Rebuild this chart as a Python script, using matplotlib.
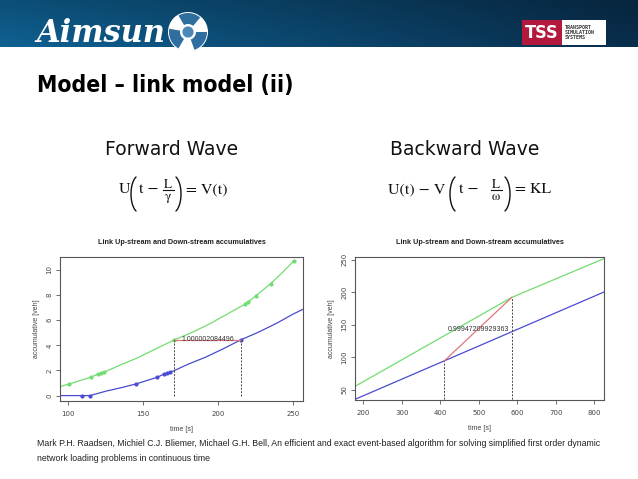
import numpy as np
import matplotlib
matplotlib.use('Agg')
import matplotlib.pyplot as plt
from matplotlib.patches import Rectangle, Circle, Wedge

# ---------------- data ----------------
# Left chart (Forward wave)
fw_up_t = [94.4, 100.7, 114.9, 120.0, 121.8, 123.8, 135.0, 147.0, 158.0, 170.7,
           183.0, 195.0, 206.0, 217.8, 220.0, 225.1, 235.1, 243.0, 250.7]
fw_up_v = [0.72, 0.93, 1.46, 1.72, 1.80, 1.86, 2.45, 3.05, 3.70, 4.43,
           5.05, 5.75, 6.48, 7.27, 7.45, 7.93, 8.91, 9.80, 10.74]
fw_dn_t = [94.4, 109.3, 114.5, 125.0, 136.0, 145.3, 159.3, 164.0, 165.8, 168.0,
           170.5, 180.0, 191.5, 203.0, 215.0, 227.0, 239.0, 250.0, 256.7]
fw_dn_v = [0.0, 0.0, 0.0, 0.35, 0.65, 0.93, 1.46, 1.72, 1.80, 1.86,
           1.98, 2.50, 3.05, 3.70, 4.43, 5.05, 5.75, 6.48, 6.87]
fw_up_mark_t = [100.7, 114.9, 120.0, 121.8, 123.8, 170.7, 217.8, 220.0, 225.1, 235.1, 250.7]
fw_up_mark_v = [0.93, 1.46, 1.72, 1.80, 1.86, 4.43, 7.27, 7.45, 7.93, 8.91, 10.74]
fw_dn_mark_t = [109.3, 114.5, 145.3, 159.3, 164.0, 165.8, 168.0, 215.0]
fw_dn_mark_v = [0.0, 0.0, 0.93, 1.46, 1.72, 1.80, 1.86, 4.43]
fw_wave_t = [170.7, 215.0]
fw_wave_v = [4.43, 4.43]
fw_label = "1.000002084496"

# Right chart (Backward wave)
bw_up_t = [178.4, 585.5, 825.0]
bw_up_v = [55.5, 192.0, 251.5]
bw_dn_t = [178.4, 825.0]
bw_dn_v = [35.6, 200.3]
bw_wave_t = [410.4, 585.5]
bw_wave_v = [94.7, 192.0]
bw_label = "0.99947209929363"

fw_xticks = [100, 150, 200, 250]
fw_yticks = [0, 2, 4, 6, 8, 10]
bw_xticks = [200, 300, 400, 500, 600, 700, 800]
bw_yticks = [50, 100, 150, 200, 250]

chart_title = "Link Up-stream and Down-stream accumulatives"
xlab = "time [s]"
ylab = "accumulative [veh]"

W, H = 638, 479
fig = plt.figure(figsize=(W / 100, H / 100), dpi=100)
fig.patch.set_facecolor('white')

bg = fig.add_axes([0, 0, 1, 1])
bg.set_xlim(0, W)
bg.set_ylim(H, 0)
bg.axis('off')

# header gradient
nx, ny = 200, 40
gx = np.linspace(0, 1, nx)[None, :]
gy = np.linspace(0, 1, ny)[:, None]
c_left = np.array([0x0e, 0x5a, 0x88]) / 255
c_right = np.array([0x08, 0x2a, 0x46]) / 255
img = c_left[None, None, :] * (1 - gx[..., None]) + c_right[None, None, :] * gx[..., None]
img = img * (0.88 + 0.2 * gy[..., None])
img = np.clip(img, 0, 1)
bg.imshow(img, extent=(0, W, 47, 0), aspect='auto', zorder=0)

# Aimsun logo
bg.text(36, 33, "Aimsun", color='white', fontsize=22, fontweight='bold',
        fontstyle='italic', family='DejaVu Serif', va='center', ha='left', zorder=3)
cx, cy, r = 188, 32, 20
bg.add_patch(Circle((cx, cy), r, facecolor='white', edgecolor='none', zorder=3))
for a in (0, 120, 240):
    bg.add_patch(Wedge((cx, cy), r * 0.95, a, a + 70, width=r * 0.55,
                       facecolor='#2f6f9f', edgecolor='none', zorder=4))
bg.add_patch(Circle((cx, cy), r * 0.28, facecolor='#4a88b8', edgecolor='none', zorder=5))

# TSS logo
bg.add_patch(Rectangle((522, 20), 40, 25, facecolor='#b3193c', edgecolor='none', zorder=3))
bg.add_patch(Rectangle((562, 20), 44, 25, facecolor='white', edgecolor='none', zorder=3))
bg.text(542, 33, "TSS", color='white', fontsize=13, fontweight='bold',
        family='DejaVu Sans', fontstretch='condensed', ha='center', va='center', zorder=4)
bg.text(565, 32.5, "TRANSPORT\nSIMULATION\nSYSTEMS", color='#333333', fontsize=3.6,
        fontweight='bold', family='DejaVu Sans Mono', ha='left', va='center',
        linespacing=1.05, zorder=4)

# slide title
bg.text(37, 92, "Model \u2013 link model (ii)", fontsize=16.5, fontweight='bold',
        family='DejaVu Sans', fontstretch='condensed', ha='left', va='baseline', color='black')

# section headings
bg.text(172, 155, "Forward Wave", fontsize=13.5, family='DejaVu Sans',
        ha='center', va='baseline', color='#111111')
bg.text(465, 155, "Backward Wave", fontsize=13.5, family='DejaVu Sans',
        ha='center', va='baseline', color='#111111')

# formulas (built from pieces so the brackets can be tall)
MF = 'STIXGeneral'
FC = '#111111'
PC = 194.0      # bracket centre
PH = 34.0       # bracket height
PW = 5.0        # bracket bulge
_tt = np.linspace(-1.15, 1.15, 50)
_bx = (1 - np.cos(_tt)) / (1 - np.cos(1.15))
_by = np.sin(_tt) / np.sin(1.15)


def paren(x, left=True):
    if left:
        bg.plot(x + PW * _bx, PC + PH / 2 * _by, color=FC, lw=1.0, solid_capstyle='round')
    else:
        bg.plot(x - PW * _bx, PC + PH / 2 * _by, color=FC, lw=1.0, solid_capstyle='round')


def frac(xc, num, den, ybar=189.5, half=5.5):
    bg.plot([xc - half, xc + half], [ybar, ybar], color=FC, lw=0.8)
    bg.text(xc, ybar - 1.5, num, family=MF, fontsize=9.5, ha='center', va='baseline', color=FC)
    bg.text(xc, ybar + 1.8, den, family=MF, fontsize=9.5, ha='center', va='top', color=FC)


BL = 193.0
bg.text(119, BL, "U", family=MF, fontsize=11.5, ha='left', va='baseline', color=FC)
paren(131)
bg.text(139, BL, "t \u2212", family=MF, fontsize=11.5, ha='left', va='baseline', color=FC)
frac(168, "L", "\u03b3")
paren(181, left=False)
bg.text(186, BL, "= V(t)", family=MF, fontsize=11.5, ha='left', va='baseline', color=FC)

bg.text(388, BL, "U(t) \u2212 V", family=MF, fontsize=11.5, ha='left', va='baseline', color=FC)
paren(450)
bg.text(459, BL, "t \u2212", family=MF, fontsize=11.5, ha='left', va='baseline', color=FC)
frac(496, "L", "\u03c9")
paren(510, left=False)
bg.text(515, BL, "= KL", family=MF, fontsize=11.5, ha='left', va='baseline', color=FC)

# reference
bg.text(37, 446, "Mark P.H. Raadsen, Michiel C.J. Bliemer, Michael G.H. Bell, An efficient and exact event-based algorithm for solving simplified first order dynamic",
        fontsize=6.3, family='Liberation Sans', ha='left', va='baseline', color='#222222')
bg.text(37, 461, "network loading problems in continuous time",
        fontsize=6.3, family='Liberation Sans', ha='left', va='baseline', color='#222222')

GREEN = '#72dc72'
BLUE = '#4a4ad2'
RED = '#e27676'
BOX = '#555555'


def px_axes(x0, x1, ytop, ybot):
    return fig.add_axes([x0 / W, 1 - ybot / H, (x1 - x0) / W, (ybot - ytop) / H])


def style(ax, xticks, yticks):
    for s in ax.spines.values():
        s.set_color(BOX)
        s.set_linewidth(0.8)
    ax.set_xticks(xticks)
    ax.set_yticks(yticks)
    ax.tick_params(direction='out', length=3, width=0.6, color=BOX,
                   labelsize=5, labelcolor='#444444')
    ax.tick_params(axis='x', pad=4)
    ax.tick_params(axis='y', pad=2.5)
    for lab in ax.get_yticklabels():
        lab.set_rotation(90)
        lab.set_va('center')
    ax.set_title(chart_title, fontsize=5.2, fontweight='bold', color='#222222',
                 family='Liberation Sans', pad=9)
    ax.set_xlabel(xlab, fontsize=5, color='#444444', family='Liberation Sans', labelpad=7)
    ax.set_ylabel(ylab, fontsize=5, color='#444444', family='Liberation Sans', labelpad=4.5)


# left chart
ax1 = px_axes(60, 303, 257, 401)
ax1.plot(fw_up_t, fw_up_v, color=GREEN, lw=0.9)
ax1.plot(fw_dn_t, fw_dn_v, color=BLUE, lw=0.9)
ax1.plot(fw_up_mark_t, fw_up_mark_v, 'o', color=GREEN, ms=2.0)
ax1.plot(fw_dn_mark_t, fw_dn_mark_v, 'o', color=BLUE, ms=2.0)
ax1.plot(fw_wave_t, fw_wave_v, color=RED, lw=0.9)
for t, v in zip(fw_wave_t, fw_wave_v):
    ax1.plot([t, t], [0, v], color='#444444', lw=0.7, ls=(0, (2, 1.5)))
ax1.text(np.mean(fw_wave_t), np.mean(fw_wave_v), fw_label, fontsize=5, color='#333333',
         ha='center', va='center', family='Liberation Sans')
ax1.set_xlim(94.4, 256.7)
ax1.set_ylim(-0.43, 11.03)
style(ax1, fw_xticks, fw_yticks)

# right chart
ax2 = px_axes(355, 604, 257, 400)
ax2.plot(bw_up_t, bw_up_v, color=GREEN, lw=0.9)
ax2.plot(bw_dn_t, bw_dn_v, color=BLUE, lw=0.9)
ax2.plot(bw_wave_t, bw_wave_v, color=RED, lw=0.9)
for t, v in zip(bw_wave_t, bw_wave_v):
    ax2.plot([t, t], [0, v], color='#444444', lw=0.7, ls=(0, (2, 1.5)))
ax2.text(np.mean(bw_wave_t), np.mean(bw_wave_v), bw_label, fontsize=5, color='#333333',
         ha='center', va='center', family='Liberation Sans')
ax2.set_xlim(178.4, 825.0)
ax2.set_ylim(34.6, 254.0)
style(ax2, bw_xticks, bw_yticks)

fig.savefig('out.png', dpi=100)
